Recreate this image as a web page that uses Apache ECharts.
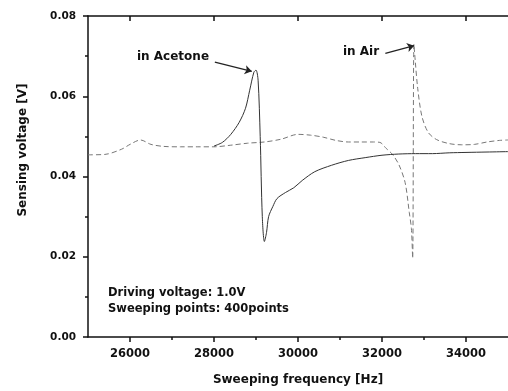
<!DOCTYPE html>
<html>
<head>
<meta charset="utf-8">
<script src="https://cdn.jsdelivr.net/npm/echarts@6/dist/echarts.min.js"></script>
<style>
  html, body { margin: 0; padding: 0; background: #fff; }
  #main { width: 508px; height: 391px; }
</style>
</head>
<body>
<div id="main"></div>
<script>
// frequency sweep, air (dashed) and acetone (solid)
const airFreq = [25000, 25400, 25800, 26000, 26250, 26500, 26800, 27200, 27600, 28000,
  28400, 28800, 29200, 29600, 30000, 30300, 30600, 30900, 31200, 31500, 31800, 31950,
  32100, 32250, 32400, 32550, 32650, 32700, 32730, 32760, 32790, 32850, 32950, 33100,
  33300, 33600, 33900, 34200, 34500, 34800, 35000];
const airVolt = [0.0454, 0.0455, 0.0468, 0.0480, 0.0491, 0.0480, 0.0475, 0.0474, 0.0474, 0.0474,
  0.0478, 0.0483, 0.0486, 0.0493, 0.0505, 0.0503, 0.0498, 0.0490, 0.0486, 0.0486, 0.0486, 0.0485,
  0.0470, 0.0455, 0.0430, 0.0385, 0.0310, 0.0270, 0.0196, 0.0730, 0.0690, 0.0620, 0.0550, 0.0510,
  0.0492, 0.0482, 0.0479, 0.0480, 0.0486, 0.0490, 0.0491];

const acetoneFreq = [28000, 28200, 28400, 28600, 28750, 28850, 28950, 29000, 29050, 29100,
  29150, 29200, 29250, 29300, 29400, 29500, 29700, 29900, 30100, 30400, 30800, 31200,
  31600, 32000, 32400, 32800, 33200, 33600, 34000, 34500, 35000];
const acetoneVolt = [0.0476, 0.0485, 0.0505, 0.0535, 0.0570, 0.0615, 0.0660, 0.0665, 0.0640, 0.0500,
  0.0300, 0.0238, 0.0260, 0.0300, 0.0325, 0.0345, 0.0360, 0.0372, 0.0390, 0.0412, 0.0428, 0.0440,
  0.0447, 0.0453, 0.0456, 0.0457, 0.0457, 0.0459, 0.0460, 0.0461, 0.0462];

const xMajorTicks = [26000, 28000, 30000, 32000, 34000];
const xMinorTicks = [27000, 29000, 31000, 33000];

const chart = echarts.init(document.getElementById('main'));
const font = '"DejaVu Sans", Verdana, sans-serif';
const ink = '#111';

function pairs(xs, ys) {
  return xs.map((x, i) => [x, ys[i]]);
}

const option = {
  animation: false,
  grid: { left: 88, right: -8, top: 16, bottom: 51 },
  xAxis: [
    {
      type: 'value', min: 25000, max: 35000, interval: 1000,
      name: 'Sweeping frequency [Hz]', nameLocation: 'middle', nameGap: 37,
      nameTextStyle: { color: ink, fontFamily: font, fontWeight: 'bold', fontSize: 12 },
      axisLine: { show: true, onZero: false, lineStyle: { color: ink, width: 1.5 } },
      axisTick: { show: true, customValues: xMajorTicks, length: 5, lineStyle: { color: ink, width: 1.5 } },
      axisLabel: {
        customValues: xMajorTicks, color: ink, fontFamily: font, fontWeight: 'bold', fontSize: 11.5, margin: 11,
        formatter: v => String(v)
      },
      splitLine: { show: false }
    },
    {
      // minor ticks on bottom
      type: 'value', min: 25000, max: 35000, interval: 1000, position: 'bottom',
      axisLine: { show: false },
      axisTick: { show: true, customValues: xMinorTicks, length: 3, lineStyle: { color: ink, width: 1.5 } },
      axisLabel: { show: false },
      splitLine: { show: false }
    },
    {
      // mirror axis on top
      type: 'value', min: 25000, max: 35000, interval: 1000, position: 'top',
      axisLine: { show: true, lineStyle: { color: ink, width: 1.5 } },
      axisTick: { show: true, inside: true, customValues: xMajorTicks, length: 5, lineStyle: { color: ink, width: 1.5 } },
      axisLabel: { show: false },
      splitLine: { show: false }
    }
  ],
  yAxis: {
    type: 'value', min: 0, max: 0.08, interval: 0.02,
    axisLine: { show: true, lineStyle: { color: ink, width: 1.5 } },
    axisTick: { show: true, length: 5, lineStyle: { color: ink, width: 1.5 } },
    minorTick: { show: true, splitNumber: 2, length: 3, lineStyle: { color: ink, width: 1.5 } },
    axisLabel: {
      color: ink, fontFamily: font, fontWeight: 'bold', fontSize: 10.5, margin: 12,
      formatter: v => v.toFixed(2)
    },
    splitLine: { show: false }
  },
  series: [
    {
      name: 'in Air', type: 'line', showSymbol: false, smooth: 0.3,
      data: pairs(airFreq, airVolt),
      lineStyle: { color: '#777', width: 1, type: [5, 3] },
      markLine: {
        silent: true, symbol: ['none', 'arrow'], symbolSize: 7,
        label: { show: false },
        lineStyle: { color: '#222', width: 1.2, type: 'solid' },
        data: [
          [{ coord: [28020, 0.0685] }, { coord: [28900, 0.0662] }],
          [{ coord: [32080, 0.0707] }, { coord: [32765, 0.0726] }]
        ]
      }
    },
    {
      name: 'in Acetone', type: 'line', showSymbol: false, smooth: 0.3,
      data: pairs(acetoneFreq, acetoneVolt),
      lineStyle: { color: '#333', width: 1 }
    }
  ],
  graphic: [
    {
      type: 'text', x: 23, y: 150, rotation: Math.PI / 2,
      style: { text: 'Sensing voltage [V]', fill: ink, font: 'bold 12px ' + font, align: 'center', verticalAlign: 'middle' }
    },
    { type: 'text', left: 137, top: 51, style: { text: 'in Acetone', fill: ink, font: 'bold 12px ' + font } },
    { type: 'text', left: 343, top: 46, style: { text: 'in Air', fill: ink, font: 'bold 12px ' + font } },
    { type: 'text', left: 108, top: 287, style: { text: 'Driving voltage: 1.0V', fill: ink, font: 'bold 11.5px ' + font } },
    { type: 'text', left: 108, top: 303, style: { text: 'Sweeping points: 400points', fill: ink, font: 'bold 11.5px ' + font } }
  ]
};
chart.setOption(option);
</script>
</body>
</html>
